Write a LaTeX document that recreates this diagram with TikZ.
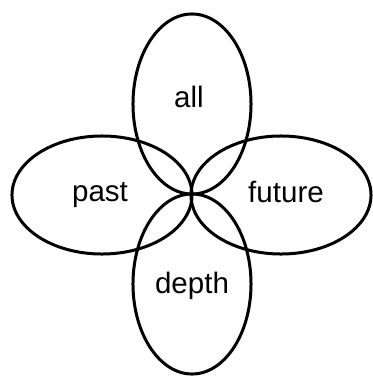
\documentclass[tikz,border=0pt]{standalone}
\usepackage{fontspec}
\setmainfont{Liberation Sans}
\usetikzlibrary{shapes.geometric}

\tikzset{
    petal/.style={ellipse, draw, line width=0.075cm, inner sep=0pt},
    upright/.style={petal, minimum width=2.95cm, minimum height=4.5cm},
    sideways/.style={petal, minimum width=4.5cm, minimum height=2.95cm},
    word/.style={font=\fontsize{21}{21}\selectfont, inner sep=0pt, anchor=base}
}

\begin{document}
\begin{tikzpicture}[x=0.025cm, y=-0.025cm]
    \useasboundingbox (0,0) rectangle (373,376);

    \coordinate (hub) at (192,194);

    \node[upright]  (allPetal)    at (192,104) {};
    \node[upright]  (depthPetal)  at (192,284) {};
    \node[sideways] (pastPetal)   at (102,195) {};
    \node[sideways] (futurePetal) at (281,195) {};

    \node[word] (allText)    at (189,107) {all};
    \node[word] (pastText)   at (100,201) {past};
    \node[word] (futureText) at (286,202) {future};
    \node[word] (depthText)  at (192,293) {depth};
\end{tikzpicture}
\end{document}
